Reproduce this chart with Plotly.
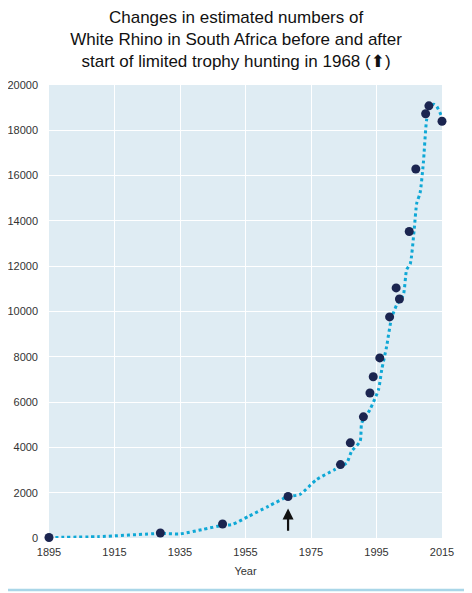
import plotly.graph_objects as go

# Survey estimates (dots)
survey_years = [1895, 1929, 1948, 1968, 1984, 1987, 1991, 1993, 1994, 1996, 1999, 2001, 2002, 2005, 2007, 2010, 2011, 2015]
survey_counts = [20, 220, 620, 1830, 3240, 4200, 5350, 6400, 7120, 7950, 9760, 11040, 10550, 13530, 16290, 18730, 19080, 18400]

# Smoothed trend (dotted line)
trend_years = [1895, 1910, 1929, 1935, 1942, 1948, 1951, 1956, 1962, 1968, 1971.6, 1976.7, 1982, 1985.9, 1987.4, 1990, 1990.5,
               1993, 1995.6, 1996.6, 1998.1, 1999.6, 2001.2, 2003.2, 2004.2, 2005.3, 2006.5, 2007.3, 2008.3, 2009.3,
               2010.3, 2011.3, 2012.5, 2013.4, 2014.9, 2015]
trend_counts = [20, 60, 200, 180, 380, 560, 600, 960, 1400, 1830, 1920, 2580, 3000, 3320, 3830, 4270, 5080,
                5670, 6550, 7430, 8460, 9710, 10300, 10740, 11840, 12100, 13610, 14790, 15230, 16550,
                18460, 19050, 19150, 19050, 18600, 18400]

x_ticks = [1895, 1915, 1935, 1955, 1975, 1995, 2015]
y_ticks = [0, 2000, 4000, 6000, 8000, 10000, 12000, 14000, 16000, 18000, 20000]

title_lines = ["Changes in estimated numbers of",
               "White Rhino in South Africa before and after",
               "start of limited trophy hunting in 1968 (<span style='font-family:DejaVu Sans'>⬆</span>)"]

fig = go.Figure()
fig.add_trace(go.Scatter(x=trend_years, y=trend_counts, mode="lines",
                         line=dict(color="#0fa8d6", width=3, dash="dot"),
                         line_shape="spline", line_smoothing=0.6, cliponaxis=False, hoverinfo="skip"))
fig.add_trace(go.Scatter(x=survey_years, y=survey_counts, mode="markers",
                         marker=dict(color="#1b2550", size=9),
                         cliponaxis=False))

fig.add_annotation(x=1968, y=1300, ax=1968, ay=250, xref="x", yref="y", axref="x", ayref="y",
                   showarrow=True, arrowhead=2, arrowsize=1, arrowwidth=2.2, arrowcolor="#111111", text="")

fig.add_shape(type="line", xref="paper", yref="paper", x0=-0.13, x1=1.1, y0=-0.1148, y1=-0.1148,
              line=dict(color="#a9d6e8", width=2.5))

fig.update_layout(
    width=472, height=593,
    margin=dict(l=41, r=38, t=77, b=63, autoexpand=False),
    paper_bgcolor="white", plot_bgcolor="#dfecf3",
    showlegend=False,
    font=dict(family="Liberation Sans, Arial, sans-serif", color="#333333", size=11),
    title=dict(text="<br>".join(title_lines), x=0.476, xref="paper", xanchor="center",
               y=0.975, yanchor="top", font=dict(size=17, color="#111111")),
)
fig.update_xaxes(range=[1895, 2015], tickvals=x_ticks, showgrid=True, gridcolor="white", gridwidth=1,
                 zeroline=False, showline=False, ticks="", ticklabelstandoff=6, automargin=False,
                 title=dict(text="Year", font=dict(size=11), standoff=10))
fig.update_yaxes(range=[0, 20000], tickvals=y_ticks, tickformat="d", showgrid=True, gridcolor="white",
                 gridwidth=1, zeroline=False, showline=False, ticks="", ticklabelstandoff=10, automargin=False)

fig.write_html("out.html")
